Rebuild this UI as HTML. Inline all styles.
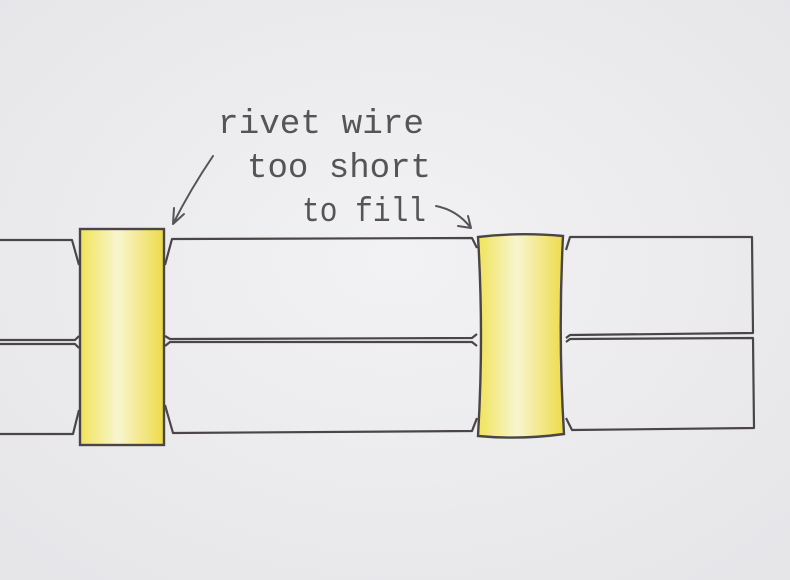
<!DOCTYPE html>
<html><head><meta charset="utf-8"><style>
html,body{margin:0;padding:0;background:#ececee;}
svg{display:block}
text{font-family:"Liberation Mono","DejaVu Sans Mono",monospace;fill:#555;}
</style></head><body>
<svg width="790" height="580" viewBox="0 0 790 580">
<defs>
<radialGradient id="bg" cx="50%" cy="45%" r="70%"><stop offset="0" stop-color="#f2f2f4"/><stop offset="1" stop-color="#e6e6e9"/></radialGradient>
<linearGradient id="yel" x1="0" x2="1"><stop offset="0" stop-color="#f1e35a"/><stop offset="0.45" stop-color="#f8f5cf"/><stop offset="1" stop-color="#eedb48"/></linearGradient>
</defs>
<rect width="790" height="580" fill="url(#bg)"/>
<g fill="none" stroke="#4a4646" stroke-width="2.2" stroke-linejoin="round">
<path d="M0 240 L72 240 L79 265 M79 336 L75 340 L0 340"/>
<path d="M0 344 L75 344 L79 348 M79 410 L73 434 L0 434"/>
<path d="M165 265 L172 239 L472 238 L477 248 M477 334 L472 338 L170 339 L165 336"/>
<path d="M165 346 L170 342 L472 342 L477 346 M477 418 L472 431 L173 433 L165 405"/>
<path d="M566 250 L570 237 L752 237 L753 333 L570 335 L566 338"/>
<path d="M566 342 L570 339 L753 338 L754 428 L572 430 L566 418"/>
</g>
<rect x="80" y="229" width="84" height="216" fill="url(#yel)" stroke="#4a4646" stroke-width="2.4"/>
<path d="M478 237 Q520 232 563 236 Q558 336 564 434 Q520 440 478 436 Q484 336 478 237 Z" fill="url(#yel)" stroke="#4a4646" stroke-width="2.4"/>
<text x="218" y="133" font-size="34" textLength="206" lengthAdjust="spacingAndGlyphs">rivet wire</text>
<text x="247" y="177" font-size="34" textLength="184" lengthAdjust="spacingAndGlyphs">too short</text>
<text x="302" y="221" font-size="34" textLength="124" lengthAdjust="spacingAndGlyphs">to fill</text>
<g fill="none" stroke="#555" stroke-width="2" stroke-linecap="round">
<path d="M213 156 Q190 190 173 224 M173 224 L174 208 M173 224 L184 214"/>
<path d="M436 206 Q457 210 471 228 M471 228 L458 226 M471 228 L468 216"/>
</g>
</svg>
</body></html>
